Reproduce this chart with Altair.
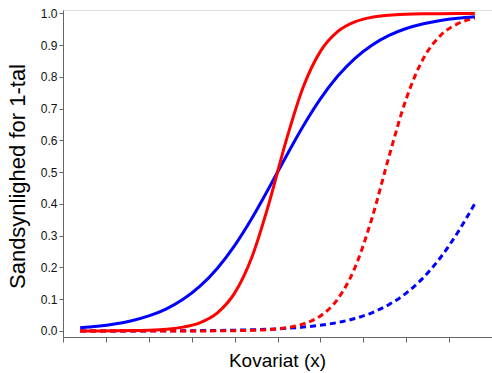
import altair as alt
import pandas as pd

# Covariate grid shared by all four probability curves
x_vals = [0.4, 0.8, 1.2, 1.6, 2.0, 2.4, 2.8, 3.2, 3.6, 4.0, 4.4, 4.8,
          5.2, 5.6, 6.0, 6.4, 6.8, 7.2, 7.6, 8.0, 8.4, 8.8, 9.2, 9.6]

# Steep curve (red, solid)
red_solid = [0.0001, 0.0002, 0.0005, 0.0011, 0.0025, 0.0055, 0.0121, 0.0266,
             0.0573, 0.1192, 0.2315, 0.4013, 0.5987, 0.7685, 0.8808, 0.9427,
             0.9734, 0.9879, 0.9945, 0.9975, 0.9989, 0.9995, 0.9998, 0.9999]

# Flat curve (blue, solid)
blue_solid = [0.0100, 0.0148, 0.0219, 0.0323, 0.0474, 0.0691, 0.0998, 0.1419,
              0.1978, 0.2689, 0.3543, 0.4502, 0.5498, 0.6457, 0.7311, 0.8022,
              0.8581, 0.9002, 0.9309, 0.9526, 0.9677, 0.9781, 0.9852, 0.9900]

# Steep curve shifted right (red, dashed)
red_dashed = [0.0000, 0.0000, 0.0000, 0.0000, 0.0000, 0.0000, 0.0001, 0.0002,
              0.0004, 0.0009, 0.0020, 0.0045, 0.0100, 0.0219, 0.0474, 0.0998,
              0.1978, 0.3543, 0.5498, 0.7311, 0.8581, 0.9309, 0.9677, 0.9852]

# Flat curve shifted right (blue, dashed)
blue_dashed = [0.0001, 0.0001, 0.0002, 0.0002, 0.0003, 0.0005, 0.0007, 0.0011,
               0.0017, 0.0025, 0.0037, 0.0055, 0.0082, 0.0121, 0.0180, 0.0266,
               0.0392, 0.0573, 0.0832, 0.1192, 0.1680, 0.2315, 0.3100, 0.4013]

x_ticks = [0, 1, 2, 3, 4, 5, 6, 7, 8, 9, 10]
y_ticks = [0.0, 0.1, 0.2, 0.3, 0.4, 0.5, 0.6, 0.7, 0.8, 0.9, 1.0]

FONT = "Liberation Sans"
AXIS_GREY = "#666666"

x_enc = alt.X(
    "x:Q",
    scale=alt.Scale(domain=[0, 10], nice=False, zero=False),
    axis=alt.Axis(
        values=x_ticks, labels=False, grid=False, tickSize=5,
        domainColor=AXIS_GREY, tickColor=AXIS_GREY,
        title="Kovariat (x)", titleFont=FONT, titleFontSize=19,
        titleFontWeight="normal", titleColor="#000000",
        titleX=214, titleY=29, titleAlign="center",
        titleBaseline="alphabetic",
    ),
)
y_enc = alt.Y(
    "p:Q",
    scale=alt.Scale(domain=[-0.019, 1.011], nice=False, zero=False),
    axis=alt.Axis(
        values=y_ticks, format=".1f", grid=False, tickSize=4,
        labelPadding=2, labelFont=FONT, labelFontSize=12,
        labelColor="#111111",
        domainColor=AXIS_GREY, tickColor=AXIS_GREY,
        title="Sandsynlighed for 1-tal", titleFont=FONT, titleFontSize=22,
        titleFontWeight="normal", titleColor="#000000",
        titleAngle=-90, titleX=-39, titleY=166, titleAlign="center",
        titleBaseline="alphabetic",
    ),
)


def curve(values, color, dashed):
    df = pd.DataFrame({"x": x_vals, "p": values})
    style = dict(color=color, strokeWidth=3, interpolate="monotone")
    if dashed:
        style["strokeDash"] = [6, 4]
    return alt.Chart(df).mark_line(**style).encode(x=x_enc, y=y_enc)


chart = alt.layer(
    curve(blue_dashed, "#0000FF", True),
    curve(red_dashed, "#FF0000", True),
    curve(blue_solid, "#0000FF", False),
    curve(red_solid, "#FF0000", False),
).properties(
    width=429,
    height=327,
    autosize="none",
    padding={"left": 63, "top": 10, "right": 0, "bottom": 36},
).configure_view(
    stroke=AXIS_GREY, strokeWidth=1
).configure(background="white")

chart.save("out.html", embed_options={"renderer": "svg", "actions": False})
